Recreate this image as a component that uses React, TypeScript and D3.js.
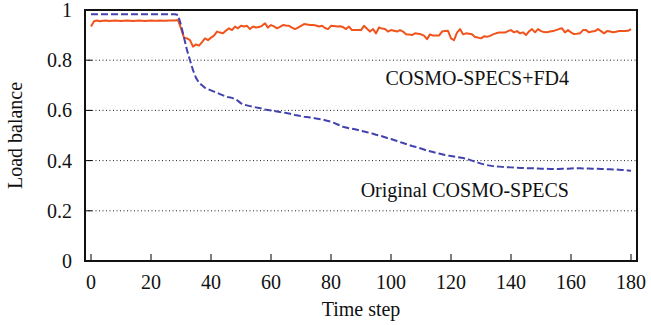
import React from "react";
import * as d3 from "d3";

// load balance per time step (index = time step 0..180)
const fd4Values = [
  0.934, 0.955, 0.958, 0.955, 0.957, 0.958, 0.956, 0.957, 0.958, 0.957,
  0.956, 0.957, 0.958, 0.957, 0.956, 0.957, 0.958, 0.957, 0.956, 0.957,
  0.958, 0.957, 0.957, 0.958, 0.957, 0.957, 0.958, 0.958, 0.958, 0.96,
  0.927, 0.89, 0.887, 0.88, 0.854, 0.863, 0.858, 0.872, 0.887, 0.88,
  0.89, 0.898, 0.914, 0.91, 0.907, 0.918, 0.927, 0.92, 0.934, 0.927,
  0.937, 0.934, 0.937, 0.924, 0.934, 0.93, 0.932, 0.937, 0.947, 0.93,
  0.94, 0.935, 0.927, 0.933, 0.94, 0.938, 0.937, 0.93, 0.924, 0.93,
  0.937, 0.944, 0.942, 0.94, 0.94, 0.938, 0.934, 0.937, 0.928, 0.924,
  0.937, 0.936, 0.934, 0.935, 0.932, 0.924, 0.934, 0.92, 0.92, 0.92,
  0.92, 0.937, 0.925, 0.914, 0.924, 0.907, 0.93, 0.926, 0.924, 0.914,
  0.92, 0.917, 0.914, 0.92, 0.914, 0.903, 0.902, 0.9, 0.907, 0.905,
  0.903, 0.898, 0.884, 0.903, 0.898, 0.898, 0.898, 0.914, 0.916, 0.917,
  0.887, 0.88, 0.91, 0.924, 0.903, 0.907, 0.905, 0.903, 0.892, 0.89,
  0.887, 0.895, 0.893, 0.897, 0.903, 0.907, 0.91, 0.91, 0.91, 0.916,
  0.92, 0.911, 0.916, 0.907, 0.911, 0.9, 0.915, 0.924, 0.911, 0.924,
  0.916, 0.912, 0.911, 0.914, 0.916, 0.92, 0.924, 0.927, 0.911, 0.92,
  0.911, 0.904, 0.905, 0.907, 0.92, 0.92, 0.911, 0.914, 0.916, 0.924,
  0.916, 0.907, 0.916, 0.914, 0.911, 0.913, 0.916, 0.916, 0.916, 0.917,
  0.924,
];

const originalValues = [
  0.983, 0.983, 0.983, 0.983, 0.983, 0.983, 0.983, 0.983, 0.983, 0.983,
  0.983, 0.983, 0.983, 0.983, 0.983, 0.983, 0.983, 0.983, 0.983, 0.983,
  0.983, 0.983, 0.983, 0.983, 0.983, 0.983, 0.983, 0.983, 0.983, 0.98,
  0.94, 0.89, 0.84, 0.8, 0.76, 0.73, 0.71, 0.7, 0.69, 0.685,
  0.68, 0.675, 0.67, 0.665, 0.66, 0.655, 0.652, 0.65, 0.645, 0.638,
  0.628, 0.622, 0.62, 0.617, 0.614, 0.612, 0.61, 0.607, 0.604, 0.602,
  0.6, 0.598, 0.596, 0.594, 0.592, 0.59, 0.588, 0.585, 0.582, 0.58,
  0.577, 0.575, 0.574, 0.572, 0.57, 0.568, 0.566, 0.564, 0.561, 0.558,
  0.555, 0.55, 0.545, 0.54, 0.535, 0.532, 0.529, 0.527, 0.525, 0.522,
  0.519, 0.516, 0.513, 0.51, 0.507, 0.503, 0.5, 0.497, 0.493, 0.489,
  0.486, 0.482, 0.478, 0.474, 0.47, 0.466, 0.462, 0.458, 0.455, 0.452,
  0.448, 0.444, 0.44, 0.437, 0.434, 0.431, 0.428, 0.425, 0.422, 0.42,
  0.418, 0.416, 0.414, 0.412, 0.41, 0.408, 0.404, 0.4, 0.396, 0.392,
  0.388, 0.385, 0.382, 0.38, 0.378, 0.377, 0.376, 0.375, 0.374, 0.374,
  0.373, 0.372, 0.372, 0.371, 0.371, 0.37, 0.37, 0.37, 0.369, 0.369,
  0.368, 0.368, 0.368, 0.367, 0.367, 0.367, 0.367, 0.368, 0.368, 0.368,
  0.369, 0.37, 0.37, 0.37, 0.369, 0.369, 0.369, 0.368, 0.368, 0.368,
  0.367, 0.367, 0.366, 0.366, 0.365, 0.365, 0.364, 0.363, 0.362, 0.361,
  0.36,
];

const xTicks = [0, 20, 40, 60, 80, 100, 120, 140, 160, 180];
const yTicks = [0, 0.2, 0.4, 0.6, 0.8, 1];
const gridTicks = [0.2, 0.4, 0.6, 0.8];

const FONT = "'Liberation Serif', 'Times New Roman', serif";

const App = () => {
  const width = 651;
  const height = 325;
  const left = 85;
  const right = 637;
  const top = 10;
  const bottom = 261;

  const x = d3.scaleLinear().domain([-2, 182]).range([left, right]);
  const y = d3.scaleLinear().domain([0, 1]).range([bottom, top]);

  const line = d3
    .line<number>()
    .x((_, i) => x(i))
    .y((d) => y(d));

  const fmt = d3.format("~g");

  return (
    <div style={{ position: "absolute", left: 0, top: 0 }}>
      <svg width={width} height={height} style={{ display: "block", fontFamily: FONT }}>
        <rect width={width} height={height} fill="#fff" />

        {gridTicks.map((t) => (
          <line
            key={"g" + t}
            x1={left}
            x2={right}
            y1={y(t)}
            y2={y(t)}
            stroke="#222"
            strokeWidth={1}
            strokeDasharray="1,2.5"
          />
        ))}

        {yTicks.map((t) => (
          <g key={"y" + t}>
            <line x1={left} x2={left + 7} y1={y(t)} y2={y(t)} stroke="#000" strokeWidth={1} />
            <text x={72} y={y(t) + 7} textAnchor="end" fontSize={20} fill="#111">
              {fmt(t)}
            </text>
          </g>
        ))}

        {xTicks.map((t) => (
          <g key={"x" + t}>
            <line x1={x(t)} x2={x(t)} y1={bottom} y2={bottom - 7} stroke="#000" strokeWidth={1} />
            <text x={x(t)} y={289} textAnchor="middle" fontSize={20} fill="#111">
              {t}
            </text>
          </g>
        ))}

        <path d={line(fd4Values) || ""} fill="none" stroke="#f0541c" strokeWidth={2} strokeLinejoin="round" />
        <path
          d={line(originalValues) || ""}
          fill="none"
          stroke="#4343b0"
          strokeWidth={2}
          strokeDasharray="7,3"
        />

        <rect x={left} y={top} width={right - left} height={bottom - top} fill="none" stroke="#111" strokeWidth={2} />

        <text x={569} y={85} textAnchor="end" fontSize={20} fill="#111">
          COSMO-SPECS+FD4
        </text>
        <text x={569} y={197} textAnchor="end" fontSize={20} fill="#111">
          Original COSMO-SPECS
        </text>

        <text x={(left + right) / 2} y={316} textAnchor="middle" fontSize={20} fill="#111">
          Time step
        </text>
        <text transform={`translate(22,${(top + bottom) / 2}) rotate(-90)`} textAnchor="middle" fontSize={20} fill="#111">
          Load balance
        </text>
      </svg>
    </div>
  );
};

export default App;
